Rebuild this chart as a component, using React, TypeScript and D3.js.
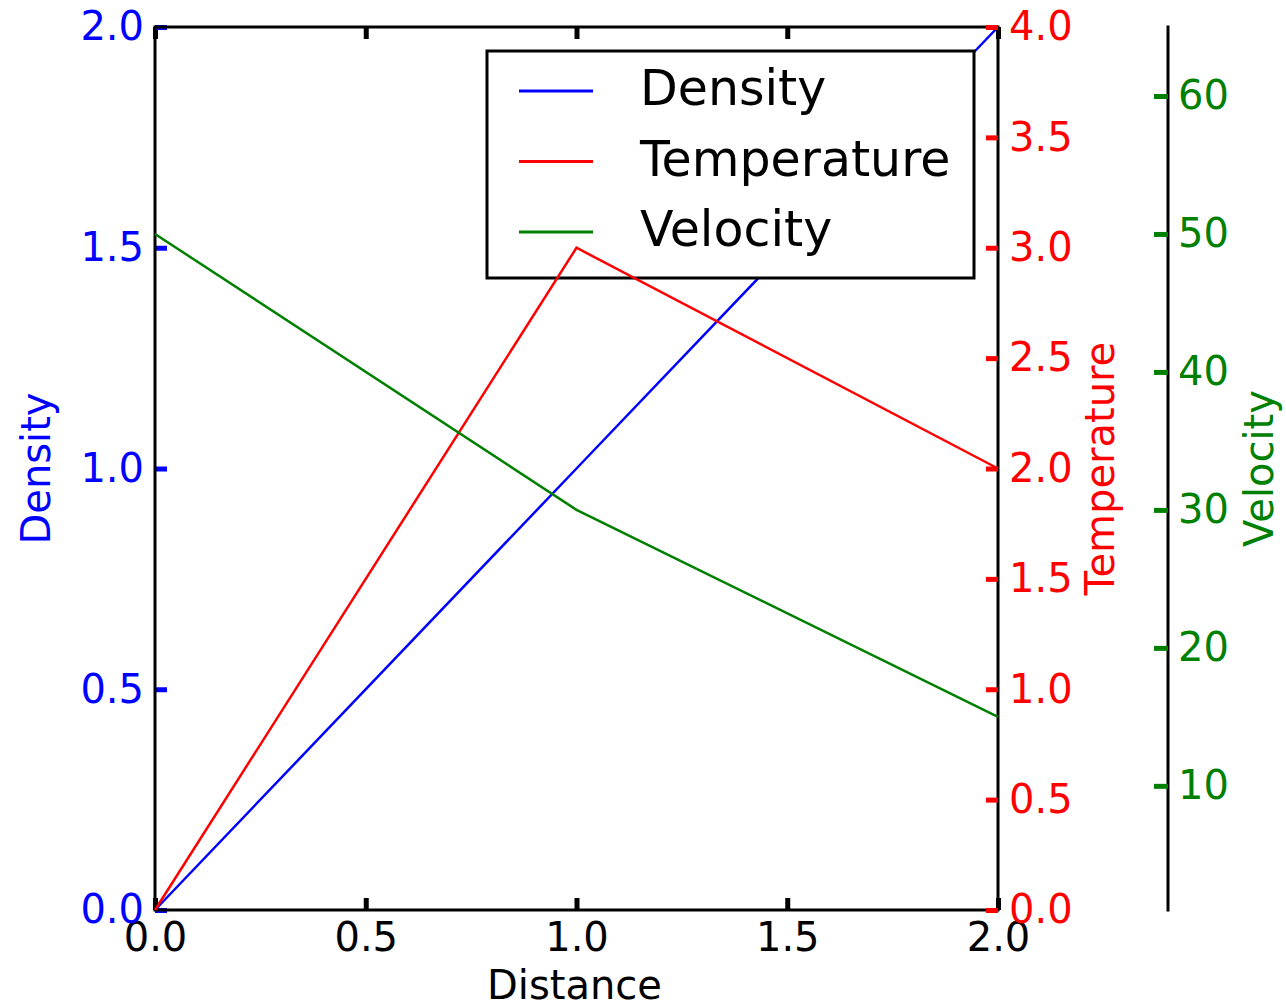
import React, { useEffect, useRef } from "react";
import * as d3 from "d3";

const width = 1286;
const height = 1008;

// data
const distance = [0, 1, 2];
const density = [0, 1, 2];
const temperature = [0, 3, 2];
const velocity = [50, 30, 15];

const xTicks = [0, 0.5, 1, 1.5, 2];
const densityTicks = [0, 0.5, 1, 1.5, 2];
const temperatureTicks = [0, 0.5, 1, 1.5, 2, 2.5, 3, 3.5, 4];
const velocityTicks = [10, 20, 30, 40, 50, 60];

const seriesNames = ["Density", "Temperature", "Velocity"];
const seriesColors = ["#0000ff", "#ff0000", "#008000"];

const plot = { left: 155, right: 998, top: 27, bottom: 910 };
const velocityAxisX = 1168;
const font = "DejaVu Sans, sans-serif";

export default function App() {
  const ref = useRef<SVGSVGElement | null>(null);

  useEffect(() => {
    document.body.style.margin = "0";
    const svg = d3.select(ref.current);
    svg.selectAll("*").remove();

    svg.append("rect").attr("width", width).attr("height", height).attr("fill", "white");

    const x = d3.scaleLinear().domain([0, 2]).range([plot.left, plot.right]);
    const yD = d3.scaleLinear().domain([0, 2]).range([plot.bottom, plot.top]);
    const yT = d3.scaleLinear().domain([0, 4]).range([plot.bottom, plot.top]);
    const yV = d3.scaleLinear().domain([1, 65]).range([plot.bottom, plot.top]);

    const styleAxis = (g: any, color: string) => {
      g.attr("color", color)
        .attr("font-family", font)
        .attr("font-size", 40);
      g.select(".domain").remove();
      g.selectAll(".tick line").attr("stroke-width", 5);
    };

    const line = (ys: number[], yScale: any) =>
      d3.line<number>()
        .x((d, i) => x(distance[i]))
        .y((d) => yScale(d))(ys);

    // host axes: density
    svg.append("path")
      .attr("d", line(density, yD))
      .attr("fill", "none")
      .attr("stroke", seriesColors[0])
      .attr("stroke-width", 2.5);

    svg.append("g")
      .attr("transform", "translate(0," + plot.bottom + ")")
      .call(d3.axisBottom(x).tickValues(xTicks).tickFormat(d3.format(".1f")).tickSize(-12).tickSizeOuter(0).tickPadding(13))
      .call((g: any) => styleAxis(g, "black"));

    svg.append("g")
      .attr("transform", "translate(0," + plot.top + ")")
      .call(d3.axisTop(x).tickValues(xTicks).tickFormat(() => "").tickSize(-12).tickSizeOuter(0))
      .call((g: any) => styleAxis(g, "black"));

    svg.append("g")
      .attr("transform", "translate(" + plot.left + ",0)")
      .call(d3.axisLeft(yD).tickValues(densityTicks).tickFormat(d3.format(".1f")).tickSize(-12).tickSizeOuter(0).tickPadding(11))
      .call((g: any) => styleAxis(g, seriesColors[0]));

    svg.append("rect")
      .attr("x", plot.left)
      .attr("y", plot.top)
      .attr("width", plot.right - plot.left)
      .attr("height", plot.bottom - plot.top)
      .attr("fill", "none")
      .attr("stroke", "black")
      .attr("stroke-width", 3);

    // legend
    const legend = svg.append("g");
    legend.append("rect")
      .attr("x", 487).attr("y", 51)
      .attr("width", 487).attr("height", 227)
      .attr("fill", "white")
      .attr("stroke", "black")
      .attr("stroke-width", 3);
    seriesNames.forEach((name, i) => {
      const ly = 91 + i * 70.5;
      legend.append("line")
        .attr("x1", 519).attr("x2", 593)
        .attr("y1", ly).attr("y2", ly)
        .attr("stroke", seriesColors[i])
        .attr("stroke-width", 3);
      legend.append("text")
        .attr("x", 640).attr("y", ly + 14)
        .attr("font-family", font)
        .attr("font-size", 49)
        .attr("fill", "black")
        .text(name);
    });

    // twin: temperature
    svg.append("path")
      .attr("d", line(temperature, yT))
      .attr("fill", "none")
      .attr("stroke", seriesColors[1])
      .attr("stroke-width", 2.5);

    svg.append("g")
      .attr("transform", "translate(" + plot.right + ",0)")
      .call(d3.axisRight(yT).tickValues(temperatureTicks).tickFormat(d3.format(".1f")).tickSize(-12).tickSizeOuter(0).tickPadding(11))
      .call((g: any) => styleAxis(g, seriesColors[1]));

    // twin: velocity
    svg.append("path")
      .attr("d", line(velocity, yV))
      .attr("fill", "none")
      .attr("stroke", seriesColors[2])
      .attr("stroke-width", 2.5);

    svg.append("line")
      .attr("x1", velocityAxisX).attr("x2", velocityAxisX)
      .attr("y1", plot.top).attr("y2", plot.bottom)
      .attr("stroke", "black")
      .attr("stroke-width", 3)
      .attr("stroke-linecap", "square");

    svg.append("g")
      .attr("transform", "translate(" + velocityAxisX + ",0)")
      .call(d3.axisRight(yV).tickValues(velocityTicks).tickFormat(d3.format("d")).tickSize(-14).tickSizeOuter(0).tickPadding(10))
      .call((g: any) => styleAxis(g, seriesColors[2]));

    // axis labels
    const midY = (plot.top + plot.bottom) / 2;
    const label = (tx: number, ty: number, rot: number, txt: string, color: string) =>
      svg.append("text")
        .attr("text-anchor", "middle")
        .attr("transform", "translate(" + tx + "," + ty + ")rotate(" + rot + ")")
        .attr("font-family", font)
        .attr("font-size", 40)
        .attr("fill", color)
        .text(txt);

    label((plot.left + plot.right) / 2 - 2, 999, 0, "Distance", "black");
    label(50, midY, -90, "Density", seriesColors[0]);
    label(1114, midY, -90, "Temperature", seriesColors[1]);
    label(1273, midY, -90, "Velocity", seriesColors[2]);
  }, []);

  return <svg ref={ref} width={width} height={height} style={{ display: "block" }} />;
}
